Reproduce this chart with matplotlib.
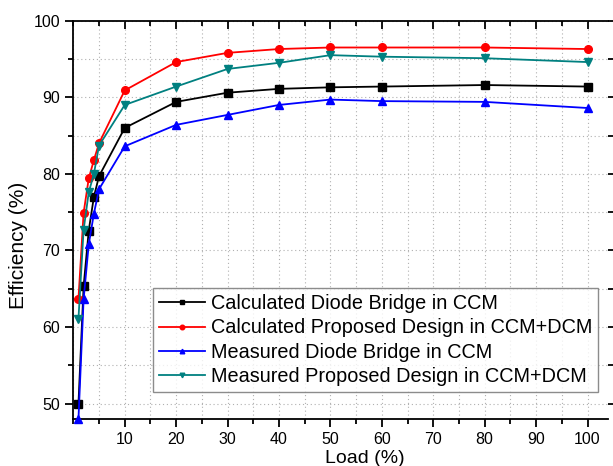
import matplotlib
matplotlib.use("Agg")
import matplotlib.pyplot as plt
from matplotlib.ticker import MultipleLocator

plt.rcParams['font.family'] = ['Liberation Sans', 'DejaVu Sans']

loads = [1, 2, 3, 4, 5, 10, 20, 30, 40, 50, 60, 80, 100]
calc_diode = [50.0, 65.3, 72.6, 77.0, 79.7, 86.0, 89.4, 90.6, 91.1, 91.3, 91.4, 91.6, 91.4]
calc_prop = [63.7, 74.9, 79.4, 81.8, 84.0, 90.9, 94.6, 95.8, 96.3, 96.5, 96.5, 96.5, 96.3]
meas_diode = [48.0, 63.6, 70.8, 74.8, 78.0, 83.6, 86.4, 87.7, 89.0, 89.7, 89.5, 89.4, 88.6]
meas_prop = [61.1, 72.7, 77.6, 80.0, 83.7, 89.0, 91.4, 93.7, 94.5, 95.5, 95.3, 95.1, 94.6]

labels = ["Calculated Diode Bridge in CCM",
          "Calculated Proposed Design in CCM+DCM",
          "Measured Diode Bridge in CCM",
          "Measured Proposed Design in CCM+DCM"]
series = [calc_diode, calc_prop, meas_diode, meas_prop]
colors = ["#000000", "#FF0000", "#0000FF", "#008080"]
markers = ["s", "o", "^", "v"]

fig = plt.figure(figsize=(6.13, 4.66), dpi=100)
ax = fig.add_axes([0.1196, 0.1009, 0.992 - 0.1196, 0.9556 - 0.1009])

for vals, lab, c, m in zip(series, labels, colors, markers):
    ax.plot(loads, vals, color=c, marker=m, markersize=5.5, linewidth=1.3,
            label=lab, clip_on=False, zorder=3)

ax.set_xlim(0, 104)
ax.set_ylim(48, 100)
ax.xaxis.set_major_locator(MultipleLocator(10))
ax.xaxis.set_minor_locator(MultipleLocator(5))
ax.yaxis.set_major_locator(MultipleLocator(10))
ax.yaxis.set_minor_locator(MultipleLocator(5))
ax.set_xticks([10, 20, 30, 40, 50, 60, 70, 80, 90, 100])

ax.grid(True, which='both', linestyle=(0, (1, 2.5)), color='#b0b0b0', linewidth=0.8, zorder=0)

for s in ['left', 'bottom', 'top']:
    ax.spines[s].set_linewidth(1.3)
ax.spines['right'].set_visible(False)

ax.tick_params(axis='both', which='major', labelsize=11.5, width=1.3, length=6, direction='out')
ax.tick_params(axis='both', which='minor', width=1.3, length=3.5, direction='out')
ax.tick_params(axis='x', which='both', top=True)
ax.tick_params(axis='y', which='both', right=True)
# top ticks point inward
for t in ax.xaxis.get_major_ticks() + ax.xaxis.get_minor_ticks():
    t.tick2line.set_marker(3)

ax.set_xlabel("Load (%)", fontsize=14)
ax.set_ylabel("Efficiency (%)", fontsize=15)
ax.xaxis.set_label_coords(0.5455, -0.077)
ax.yaxis.set_label_coords(-0.085, 0.4356)

leg = ax.legend(loc='upper left', bbox_to_anchor=(0.1485, 0.329), borderaxespad=0,
                fontsize=14.3, frameon=True, fancybox=False, edgecolor='#707070',
                markerscale=0.6, handlelength=2.3, handletextpad=0.3,
                labelspacing=0.26, borderpad=0.32)
leg.get_frame().set_linewidth(1.0)

fig.savefig("out.png", dpi=100, facecolor='white')
